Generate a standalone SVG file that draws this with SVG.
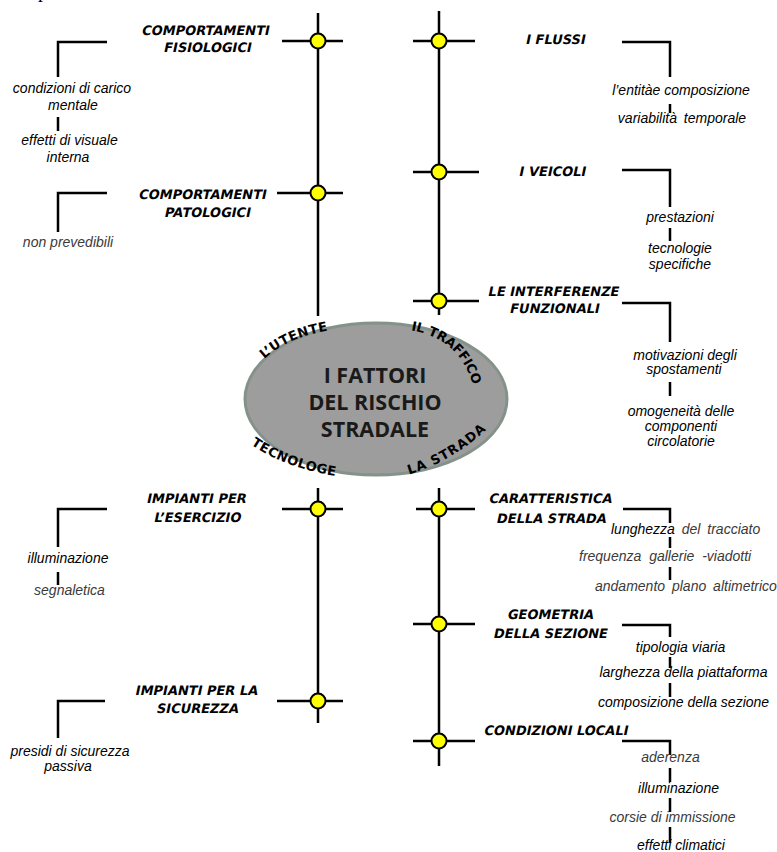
<svg xmlns="http://www.w3.org/2000/svg" width="777" height="852" viewBox="0 0 777 852">
<style>
.ln{stroke:#000;stroke-width:2.5;fill:none}
.dot{fill:#ffff00;stroke:#000;stroke-width:2}
.lbl{font-family:"DejaVu Sans",Verdana,sans-serif;font-weight:bold;font-size:13px;fill:#000;text-anchor:middle}
.sub{font-family:"Liberation Sans",Arial,sans-serif;font-style:italic;font-size:14px;fill:#000;text-anchor:middle}
.st{text-anchor:start}
.gr{fill:#3a3a3a}
.arc{font-family:"DejaVu Sans",Verdana,sans-serif;font-weight:bold;font-size:13px;fill:#000}
.ctr{font-family:"Open Sans",sans-serif;font-weight:bold;font-size:21.5px;fill:#1a1a1a;text-anchor:middle}
</style>
<defs>
<path id="p1" d="M262,361 Q288,336 332,330"/>
<path id="p2" d="M410,330 Q458,338 472,382"/>
<path id="p3" d="M250,444 Q285,468 336,476"/>
<path id="p4" d="M407,475 Q452,462 488,428"/>
</defs>
<rect width="777" height="852" fill="#fff"/>
<text x="38" y="-3" font-family="Liberation Serif,serif" font-size="20">p</text>

<g id="connectors" class="ln">
<path d="M318,13 V316 M282,41 H343 M277,193 H343"/>
<path d="M107,42 H58 V77 M58,117 V131 M107,193 H58 V232"/>
<path d="M439,11 V315 M413,41 H475 M413,172 H479 M413,301 H479"/>
<path d="M622,42 H670 V77 M670,104 V113 M622,170 H670 V207 M670,228 V241 M622,303 H670 V342 M670,382 V396"/>
<path d="M318,488 V723 M282,509 H343 M277,701 H343"/>
<path d="M107,509 H58 V547 M58,572 V585 M105,701 H58 V738"/>
<path d="M439,488 V766 M416,509 H475 M413,624 H475 M413,741 H475"/>
<path d="M623,509 H670 V523 M670,537 V548 M670,567 V580"/>
<path d="M622,625 H670 V637 M670,657 V668 M670,683 V697"/>
<path d="M622,741 H670 V755 M670,768 V782 M670,798 V812 M670,827 V843"/>
</g>

<g id="center">
<ellipse cx="376" cy="399" rx="131" ry="76" fill="#9d9d9d" stroke="#84928a" stroke-width="3"/>
<text class="ctr" x="375" y="383">I FATTORI</text>
<text class="ctr" x="375" y="410">DEL RISCHIO</text>
<text class="ctr" x="375" y="437">STRADALE</text>
<text class="arc" letter-spacing="0.5"><textPath href="#p1" startOffset="3">L’UTENTE</textPath></text>
<text class="arc" font-size="12.5" letter-spacing="-0.2"><textPath href="#p2" startOffset="1">IL TRAFFICO</textPath></text>
<text class="arc" letter-spacing="0.4"><textPath href="#p3" startOffset="1">TECNOLOGE</textPath></text>
<text class="arc" letter-spacing="1"><textPath href="#p4" startOffset="2">LA STRADA</textPath></text>
</g>

<g id="n-fisiologici">
<circle class="dot" cx="318" cy="41" r="7.5"/>
<text class="lbl" transform="translate(205,35) skewX(-12)">COMPORTAMENTI</text>
<text class="lbl" transform="translate(207,52) skewX(-12)">FISIOLOGICI</text>
<text class="sub" x="72" y="93">condizioni di carico</text>
<text class="sub" x="73" y="110">mentale</text>
<text class="sub" x="69.5" y="145">effetti di visuale</text>
<text class="sub" x="68" y="162">interna</text>
</g>
<g id="n-patologici">
<circle class="dot" cx="318" cy="193" r="7.5"/>
<text class="lbl" transform="translate(202,199) skewX(-12)">COMPORTAMENTI</text>
<text class="lbl" transform="translate(207,217) skewX(-12)">PATOLOGICI</text>
<text class="sub gr" x="68" y="247">non prevedibili</text>
</g>
<g id="n-flussi">
<circle class="dot" cx="439" cy="41" r="7.5"/>
<text class="lbl" transform="translate(555,44) skewX(-12)">I FLUSSI</text>
<text class="sub" x="681" y="95">l’entitàe composizione</text>
<text class="sub" x="682" y="123" word-spacing="3">variabilità temporale</text>
</g>
<g id="n-veicoli">
<circle class="dot" cx="439" cy="172" r="7.5"/>
<text class="lbl" transform="translate(552,176) skewX(-12)">I VEICOLI</text>
<text class="sub" x="680" y="222">prestazioni</text>
<text class="sub" x="680" y="253">tecnologie</text>
<text class="sub" x="680" y="269">specifiche</text>
</g>
<g id="n-interferenze">
<circle class="dot" cx="439" cy="301" r="7.5"/>
<text class="lbl" transform="translate(553,296) skewX(-12)">LE INTERFERENZE</text>
<text class="lbl" transform="translate(554,313) skewX(-12)">FUNZIONALI</text>
<text class="sub" x="685" y="360">motivazioni degli</text>
<text class="sub" x="684" y="374">spostamenti</text>
<text class="sub" x="681" y="416">omogeneità delle</text>
<text class="sub" x="681" y="431">componenti</text>
<text class="sub" x="681" y="446">circolatorie</text>
</g>
<g id="n-esercizio">
<circle class="dot" cx="318" cy="509" r="7.5"/>
<text class="lbl" transform="translate(196,503) skewX(-12)">IMPIANTI PER</text>
<text class="lbl" transform="translate(197,522) skewX(-12)">L’ESERCIZIO</text>
<text class="sub" x="68" y="563">illuminazione</text>
<text class="sub gr" x="69.5" y="595">segnaletica</text>
</g>
<g id="n-sicurezza">
<circle class="dot" cx="318" cy="701" r="7.5"/>
<text class="lbl" transform="translate(196,695) skewX(-12)">IMPIANTI PER LA</text>
<text class="lbl" transform="translate(197,713) skewX(-12)">SICUREZZA</text>
<text class="sub" x="70" y="756">presidi di sicurezza</text>
<text class="sub" x="68" y="771">passiva</text>
</g>
<g id="n-caratteristica">
<circle class="dot" cx="439" cy="509" r="7.5"/>
<text class="lbl" transform="translate(550,503) skewX(-12)">CARATTERISTICA</text>
<text class="lbl" transform="translate(551,523) skewX(-12)">DELLA STRADA</text>
<text class="sub st" x="611" y="534" word-spacing="3">lunghezza<tspan class="gr"> del tracciato</tspan></text>
<text class="sub st gr" x="579" y="561" word-spacing="4">frequenza gallerie -viadotti</text>
<text class="sub st gr" x="595" y="591" word-spacing="3">andamento plano altimetrico</text>
</g>
<g id="n-geometria">
<circle class="dot" cx="439" cy="624" r="7.5"/>
<text class="lbl" transform="translate(550,619) skewX(-12)">GEOMETRIA</text>
<text class="lbl" transform="translate(550,638) skewX(-12)">DELLA SEZIONE</text>
<text class="sub" x="680.5" y="652">tipologia viaria</text>
<text class="sub" x="683.5" y="677">larghezza della piattaforma</text>
<text class="sub" x="683.5" y="707">composizione della sezione</text>
</g>
<g id="n-condizioni">
<circle class="dot" cx="439" cy="741" r="7.5"/>
<text class="lbl" transform="translate(555.5,735) skewX(-12)">CONDIZIONI LOCALI</text>
<text class="sub gr" x="670.5" y="762">aderenza</text>
<text class="sub" x="678.5" y="793">illuminazione</text>
<text class="sub gr" x="672.5" y="822">corsie di immissione</text>
<text class="sub" x="681" y="850">effetti climatici</text>
</g>
</svg>
